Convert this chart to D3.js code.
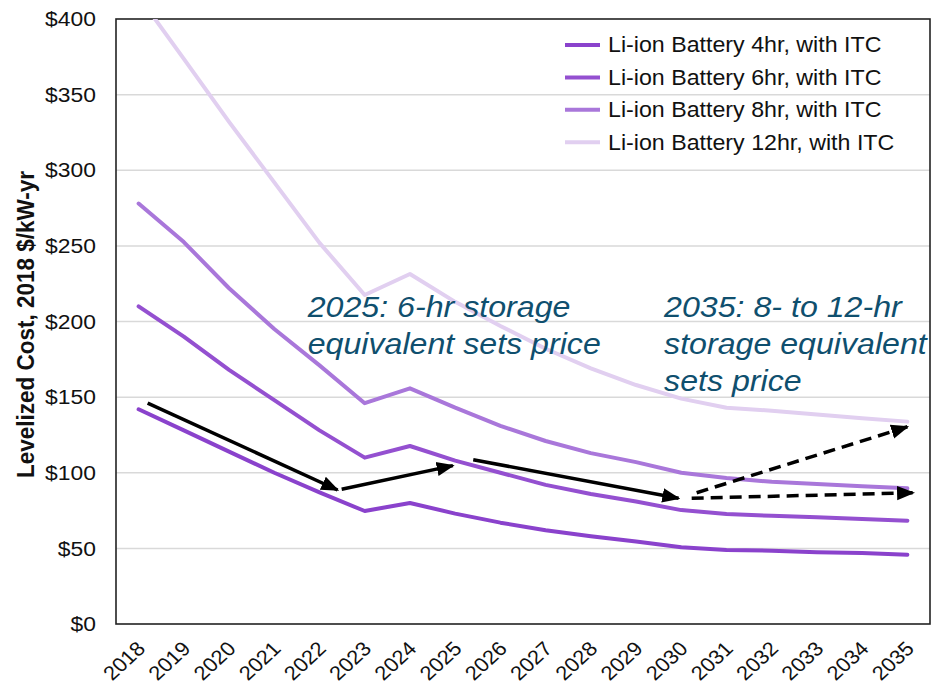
<!DOCTYPE html>
<html>
<head>
<meta charset="utf-8">
<script src="https://cdn.jsdelivr.net/npm/d3@7"></script>
<style>
  body { margin: 0; background: #fff; }
  svg text { font-family: Arial, "Liberation Sans", sans-serif; }
</style>
</head>
<body>
<svg id="chart" width="940" height="690"></svg>
<script>
const years = [2018,2019,2020,2021,2022,2023,2024,2025,2026,2027,2028,2029,2030,2031,2032,2033,2034,2035];
const seriesNames = ["Li-ion Battery 4hr, with ITC","Li-ion Battery 6hr, with ITC","Li-ion Battery 8hr, with ITC","Li-ion Battery 12hr, with ITC"];
const hr4  = [142,128,114,100,87,74.7,80,73,67,62,58,54.5,50.7,49,48.5,47.5,47,45.8];
const hr6  = [210,190,168,148,128,110,117.7,108,100,92,86,81,75.3,72.7,71.5,70.5,69.5,68.3];
const hr8  = [278,252.5,222,195,171,146,155.8,143,131,121,113,107,100,96.5,94,92.5,91,89.7];
const hr12 = [415,373.6,332,292,252,217.5,231.4,213,197,182,169,158,149,143,141,138.5,136,133.8];
const yTicks = [0,50,100,150,200,250,300,350,400];
const colors = ["#8a42cc","#9450d0","#a977da","#e1cff0"];
// annotation arrows, in (year, value) units
const solidArrows = [
  {x1:2018.2, y1:146, x2:2022.4, y2:88.6},
  {x1:2022.49, y1:89.1, x2:2024.95, y2:104.7},
  {x1:2025.4, y1:108.6, x2:2029.94, y2:83.1}
];
const dashedArrows = [
  {x1:2030.34, y1:86.8, x2:2035.0, y2:130.4},
  {x1:2030.23, y1:83.1, x2:2035.13, y2:86.8}
];
const notes = [
  {x:2021.74, y:203.2, lines:["2025: 6-hr storage","equivalent sets price"]},
  {x:2029.62, y:203.2, lines:["2035: 8- to 12-hr","storage equivalent","sets price"]}
];

const series = [hr4, hr6, hr8, hr12];
const SX = 1.09; // horizontal text stretch of the reference

const svg = d3.select("#chart");
const m = {left:116, top:19, right:930, bottom:624};

const x = d3.scalePoint().domain(years).range([m.left, m.right]).padding(0.5);
const xLin = d3.scaleLinear().domain([years[0], years[years.length-1]]).range([x(years[0]), x(years[years.length-1])]);
const y = d3.scaleLinear().domain([0,400]).range([m.bottom, m.top]);

const defs = svg.append("defs");
defs.append("clipPath").attr("id","clip")
  .append("rect").attr("x",m.left).attr("y",m.top).attr("width",m.right-m.left).attr("height",m.bottom-m.top);

// gridlines
svg.append("g").selectAll("line").data(yTicks.filter(d=>d>0 && d<400)).join("line")
  .attr("x1",m.left).attr("x2",m.right).attr("y1",d=>y(d)).attr("y2",d=>y(d))
  .attr("stroke","#d9d9d9").attr("stroke-width",1.5);

// y axis
const yAxis = svg.append("g").attr("transform",`translate(${m.left},0)`)
  .call(d3.axisLeft(y).tickValues(yTicks).tickFormat(d=>"$"+d).tickSize(0).tickPadding(20));
yAxis.select(".domain").remove();
yAxis.selectAll("text").attr("font-size",21).attr("fill","#111")
  .attr("x",0).attr("transform",`translate(-20,0) scale(${SX},1)`)
  .style("font-family","Arial, 'Liberation Sans', sans-serif");

// x axis
const xAxis = svg.append("g").attr("transform",`translate(0,${m.bottom})`)
  .call(d3.axisBottom(x).tickSize(0).tickPadding(0));
xAxis.select(".domain").remove();
xAxis.selectAll("text")
  .attr("font-size",20).attr("fill","#111").style("font-family","Arial, 'Liberation Sans', sans-serif")
  .attr("text-anchor","end")
  .attr("y",0)
  .attr("dy","0.35em")
  .attr("transform",`translate(2,21) scale(${SX},1) rotate(-45)`);

// border
svg.append("rect").attr("x",m.left).attr("y",m.top).attr("width",m.right-m.left).attr("height",m.bottom-m.top)
  .attr("fill","none").attr("stroke","#222").attr("stroke-width",1.6);

// y label
svg.append("text").attr("transform",`translate(34,${(m.top+m.bottom)/2+3}) scale(${SX},1) rotate(-90)`)
  .attr("text-anchor","middle").attr("font-size",22.5).attr("font-weight","bold").attr("fill","#111")
  .text("Levelized Cost, 2018 $/kW-yr");

// lines
const line = d3.line().x((d,i)=>x(years[i])).y(d=>y(d));
const lg = svg.append("g").attr("clip-path","url(#clip)");
[3,2,1,0].forEach(k=>{
  lg.append("path").datum(series[k]).attr("d",line)
    .attr("fill","none").attr("stroke",colors[k]).attr("stroke-width",4)
    .attr("stroke-linejoin","round").attr("stroke-linecap","round");
});

// legend
const leg = svg.append("g");
seriesNames.forEach((n,i)=>{
  const cy = 45 + i*32.4;
  leg.append("line").attr("x1",565).attr("x2",600).attr("y1",cy).attr("y2",cy)
    .attr("stroke",colors[i]).attr("stroke-width",4);
  leg.append("text").attr("transform",`translate(608,${cy}) scale(${SX},1)`).attr("dy","0.35em")
    .attr("font-size",21.3).attr("fill","#111").text(n);
});

// arrows
defs.append("marker").attr("id","arrow").attr("viewBox","0 0 10 10").attr("refX",9).attr("refY",5)
  .attr("markerUnits","userSpaceOnUse").attr("markerWidth",18).attr("markerHeight",18).attr("orient","auto")
  .append("path").attr("d","M0,1 L10,5 L0,9 z").attr("fill","#000");

const ag = svg.append("g");
function drawArrow(a, dashed){
  const l = ag.append("line").attr("x1",xLin(a.x1)).attr("y1",y(a.y1)).attr("x2",xLin(a.x2)).attr("y2",y(a.y2))
    .attr("stroke","#000").attr("stroke-width",3.5).attr("marker-end","url(#arrow)");
  if (dashed) l.attr("stroke-dasharray","12,7");
}
solidArrows.forEach(a=>drawArrow(a,false));
dashedArrows.forEach(a=>drawArrow(a,true));

// annotations
notes.forEach(nt=>{
  const g = svg.append("g").attr("transform",`translate(${xLin(nt.x)},${y(nt.y)}) scale(${SX},1)`);
  nt.lines.forEach((l,i)=>{
    g.append("text").attr("x",0).attr("y",i*37.4)
      .attr("font-size",29.5).attr("font-style","italic").attr("fill","#0f4f6e").text(l);
  });
});
</script>
</body>
</html>
